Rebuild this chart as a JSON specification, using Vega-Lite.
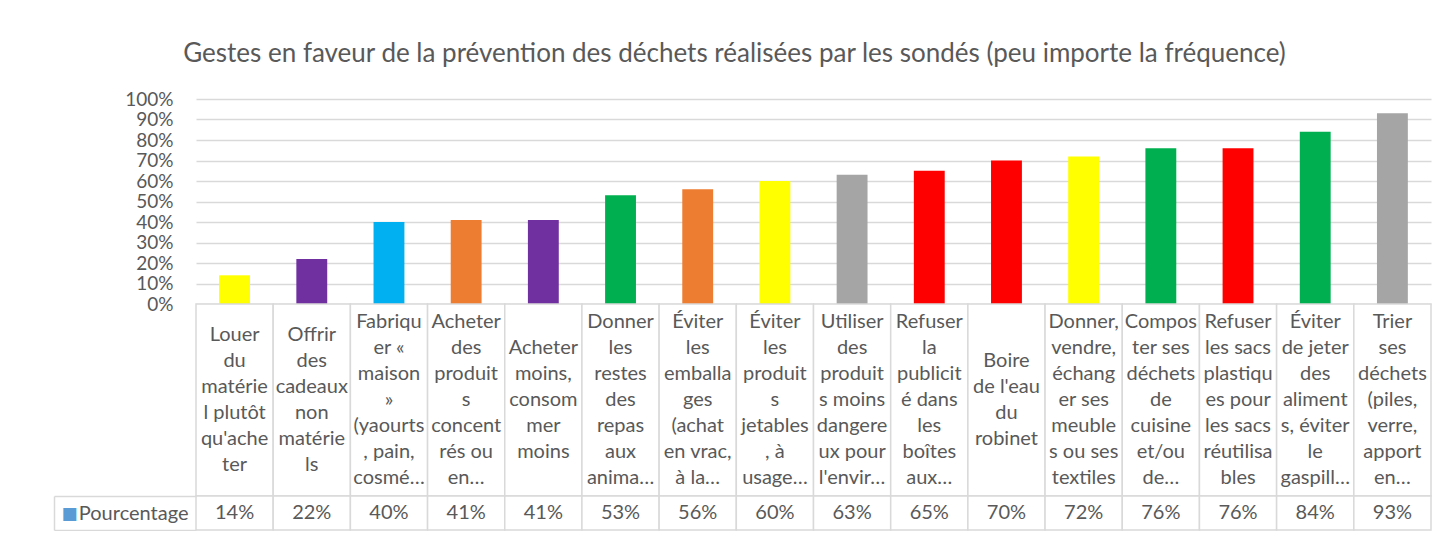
{
  "$schema": "https://vega.github.io/schema/vega-lite/v6.json",
  "padding": {"left": 53, "top": 41, "right": 0, "bottom": 0},
  "bounds": "flush",
  "spacing": 0,
  "config": {
    "font": "Lato",
    "view": {"stroke": null},
    "axis": {"labelFont": "Lato", "labelColor": "#595959"}
  },
  "title": {
    "text": "Gestes en faveur de la prévention des déchets réalisées par les sondés (peu importe la fréquence)",
    "fontSize": 26,
    "font": "Lato",
    "fontWeight": "normal",
    "color": "#595959",
    "anchor": "middle",
    "offset": 23,
    "dx": -8
  },
  "datasets": {
    "gestes": [
      {"geste": "Louer du matériel plutôt qu'acheter", "label": "Louer\ndu\nmatérie\nl plutôt\nqu'ache\nter", "pct": 0.14},
      {"geste": "Offrir des cadeaux non matériels", "label": "Offrir\ndes\ncadeaux\nnon\nmatérie\nls", "pct": 0.22},
      {"geste": "Fabriquer « maison » (yaourts, pain, cosmé…", "label": "Fabriqu\ner «\nmaison\n»\n(yaourts\n, pain,\ncosmé…", "pct": 0.40},
      {"geste": "Acheter des produits concentrés ou en…", "label": "Acheter\ndes\nproduit\ns\nconcent\nrés ou\nen…", "pct": 0.41},
      {"geste": "Acheter moins, consommer moins", "label": "Acheter\nmoins,\nconsom\nmer\nmoins", "pct": 0.41},
      {"geste": "Donner les restes des repas aux anima…", "label": "Donner\nles\nrestes\ndes\nrepas\naux\nanima…", "pct": 0.53},
      {"geste": "Éviter les emballages (achat en vrac, à la…", "label": "Éviter\nles\nemballa\nges\n(achat\nen vrac,\nà la…", "pct": 0.56},
      {"geste": "Éviter les produits jetables, à usage…", "label": "Éviter\nles\nproduit\ns\njetables\n, à\nusage…", "pct": 0.60},
      {"geste": "Utiliser des produits moins dangereux pour l'envir…", "label": "Utiliser\ndes\nproduit\ns moins\ndangere\nux pour\nl'envir…", "pct": 0.63},
      {"geste": "Refuser la publicité dans les boîtes aux…", "label": "Refuser\nla\npublicit\né dans\nles\nboîtes\naux…", "pct": 0.65},
      {"geste": "Boire de l'eau du robinet", "label": "Boire\nde l'eau\ndu\nrobinet", "pct": 0.70},
      {"geste": "Donner, vendre, échanger ses meubles ou ses textiles", "label": "Donner,\nvendre,\néchang\ner ses\nmeuble\ns ou ses\ntextiles", "pct": 0.72},
      {"geste": "Composter ses déchets de cuisine et/ou de…", "label": "Compos\nter ses\ndéchets\nde\ncuisine\net/ou\nde…", "pct": 0.76},
      {"geste": "Refuser les sacs plastiques pour les sacs réutilisables", "label": "Refuser\nles sacs\nplastiqu\nes pour\nles sacs\nréutilisa\nbles", "pct": 0.76},
      {"geste": "Éviter de jeter des aliments, éviter le gaspill…", "label": "Éviter\nde jeter\ndes\naliment\ns, éviter\nle\ngaspill…", "pct": 0.84},
      {"geste": "Trier ses déchets (piles, verre, apport en…", "label": "Trier\nses\ndéchets\n(piles,\nverre,\napport\nen…", "pct": 0.93}
    ]
  },
  "vconcat": [
    {
      "width": 1235,
      "height": 205,
      "data": {"name": "gestes"},
      "mark": {"type": "bar"},
      "encoding": {
        "x": {"field": "geste", "type": "nominal", "sort": null, "axis": null,
              "scale": {"paddingInner": 0.6, "paddingOuter": 0.3}},
        "y": {"field": "pct", "type": "quantitative",
              "scale": {"domain": [0, 1]},
              "axis": {"values": [0, 0.1, 0.2, 0.3, 0.4, 0.5, 0.6, 0.7, 0.8, 0.9, 1],
                       "format": ".0%", "title": null, "domain": false, "ticks": false,
                       "labelFontSize": 19, "labelPadding": 23, "labelOverlap": false,
                       "labelFlush": false, "labelBound": false,
                       "gridColor": "#D9D9D9", "gridWidth": 1.5}},
        "color": {"field": "geste", "type": "nominal", "legend": null,
                  "scale": {
                    "domain": ["Louer du matériel plutôt qu'acheter", "Offrir des cadeaux non matériels", "Fabriquer « maison » (yaourts, pain, cosmé…", "Acheter des produits concentrés ou en…", "Acheter moins, consommer moins", "Donner les restes des repas aux anima…", "Éviter les emballages (achat en vrac, à la…", "Éviter les produits jetables, à usage…", "Utiliser des produits moins dangereux pour l'envir…", "Refuser la publicité dans les boîtes aux…", "Boire de l'eau du robinet", "Donner, vendre, échanger ses meubles ou ses textiles", "Composter ses déchets de cuisine et/ou de…", "Refuser les sacs plastiques pour les sacs réutilisables", "Éviter de jeter des aliments, éviter le gaspill…", "Trier ses déchets (piles, verre, apport en…"],
                    "range": ["#FFFF00", "#7030A0", "#00B0F0", "#ED7D31", "#7030A0", "#00B050", "#ED7D31", "#FFFF00", "#A5A5A5", "#FF0000", "#FF0000", "#FFFF00", "#00B050", "#FF0000", "#00B050", "#A5A5A5"]
                  }}
      }
    },
    {
      "width": 1235,
      "height": 192,
      "data": {"name": "gestes"},
      "layer": [
        {
          "mark": {"type": "rect", "fill": "white", "stroke": "#D9D9D9", "strokeWidth": 1.5},
          "encoding": {
            "x": {"field": "geste", "type": "nominal", "sort": null, "axis": null,
                  "scale": {"paddingInner": 0, "paddingOuter": 0}}
          }
        },
        {
          "mark": {"type": "text", "lineBreak": "\n", "fontSize": 20, "lineHeight": 26,
                   "color": "#595959", "align": "center", "baseline": "middle",
                   "dy": {"expr": "-13 * (length(split(datum.label, '\\n')) - 1)"}},
          "encoding": {
            "x": {"field": "geste", "type": "nominal", "sort": null, "axis": null},
            "text": {"field": "label"}
          }
        }
      ]
    },
    {
      "width": 1235,
      "height": 34,
      "data": {"name": "gestes"},
      "layer": [
        {
          "mark": {"type": "rect", "fill": "white", "stroke": "#D9D9D9", "strokeWidth": 1.5},
          "encoding": {
            "x": {"field": "geste", "type": "nominal", "sort": null, "axis": null,
                  "scale": {"paddingInner": 0, "paddingOuter": 0}},
            "y": {"datum": "Pourcentage", "type": "nominal",
                  "scale": {"paddingInner": 0, "paddingOuter": 0},
                  "axis": {"title": null, "orient": "left", "domain": false,
                           "ticks": true, "tickBand": "extent", "tickExtra": true,
                           "tickSize": 142, "tickColor": "#D9D9D9", "tickWidth": 1.5,
                           "labelPadding": -134, "labelFontSize": 20, "labelColor": "#595959"}}
          }
        },
        {
          "mark": {"type": "text", "fontSize": 20, "color": "#595959", "align": "center", "baseline": "middle"},
          "encoding": {
            "x": {"field": "geste", "type": "nominal", "sort": null, "axis": null},
            "y": {"datum": "Pourcentage", "type": "nominal",
                  "scale": {"paddingInner": 0, "paddingOuter": 0},
                  "axis": {"title": null, "orient": "right", "offset": -1377,
                           "domain": true, "domainColor": "#D9D9D9", "domainWidth": 1.5,
                           "ticks": false, "labelExpr": "'■'", "labelFont": "DejaVu Sans",
                           "labelFontSize": 17, "labelColor": "#5B9BD5", "labelPadding": 7}},
            "text": {"field": "pct", "type": "quantitative", "format": ".0%"}
          }
        }
      ],
      "resolve": {"scale": {"y": "independent"}, "axis": {"y": "independent"}}
    }
  ]
}
